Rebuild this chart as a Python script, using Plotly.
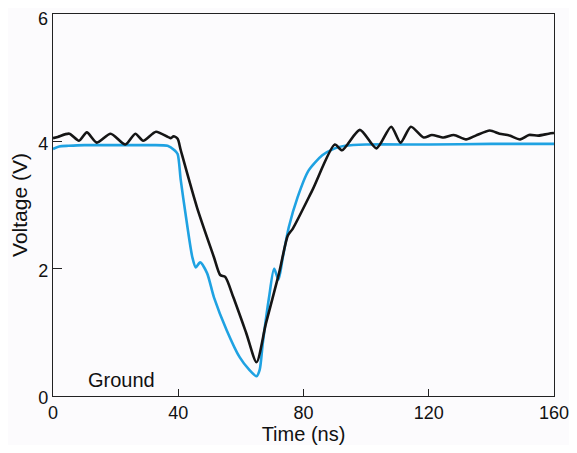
import plotly.graph_objects as go

# Black trace (time ns, voltage V)
t_black = [0, 1.5, 5.2, 8.3, 10.8, 14, 18.4, 23.1, 26.3, 28.8, 32.9, 37.6, 38.5, 39.8,
           40.8, 46, 51.4, 53.4, 55, 57.6, 61.7, 65, 68, 72.2, 75, 76.6, 82.8, 90,
           92.3, 98, 103.3, 108, 111, 114.3, 118.4, 121, 124.7, 128, 131.9, 135,
           139.5, 142.6, 145.8, 149.2, 152, 155, 158.3, 160]
v_black = [4.05, 4.07, 4.12, 4.01, 4.14, 3.98, 4.12, 3.95, 4.12, 4.01, 4.15, 4.05, 4.08, 4.04,
           3.86, 2.96, 2.18, 1.9, 1.87, 1.55, 0.99, 0.53, 1.14, 1.93, 2.52, 2.63, 3.23, 3.95,
           3.86, 4.18, 3.89, 4.23, 3.98, 4.23, 4.06, 4.1, 4.06, 4.1, 4.03, 4.09,
           4.17, 4.12, 4.09, 4.03, 4.1, 4.09, 4.12, 4.13]

# Blue trace
t_blue = [0, 2, 5, 10, 20, 30, 36.6, 38.8, 39.8, 40.8, 42.3, 44.5, 45.6, 47, 49.2, 51.4,
          55.5, 59.6, 62.7, 65, 66, 67, 69, 70.6, 72, 73.4, 75.3, 78.1, 81.6, 86, 90,
          93.3, 100, 120, 140, 160]
v_blue = [3.88, 3.92, 3.93, 3.94, 3.94, 3.94, 3.93, 3.86, 3.8, 3.39, 2.87, 2.18, 2.02, 2.1,
          1.93, 1.55, 1.03, 0.61, 0.41, 0.31, 0.41, 0.83, 1.55, 2.0, 1.83, 2.18, 2.65,
          3.12, 3.54, 3.78, 3.89, 3.93, 3.95, 3.95, 3.96, 3.96]

x_ticks = [0, 40, 80, 120, 160]
y_ticks = [0, 2, 4, 6]

FONT = "Liberation Sans, Arial, Helvetica, sans-serif"

fig = go.Figure()
fig.add_trace(go.Scatter(x=t_blue, y=v_blue, mode="lines",
                         line=dict(color="#1fa2e2", width=2.6, shape="spline", smoothing=0.7),
                         showlegend=False))
fig.add_trace(go.Scatter(x=t_black, y=v_black, mode="lines",
                         line=dict(color="#151515", width=2.6, shape="spline", smoothing=0.7),
                         showlegend=False))

fig.add_annotation(x=10.5, y=0.25, xref="x", yref="y", text="Ground", showarrow=False,
                   xanchor="left", yanchor="middle",
                   font=dict(family=FONT, size=20, color="#111"))

# top y tick label drawn as an annotation nudged down so it stays inside the page
fig.add_annotation(x=0, y=y_ticks[-1], xref="paper", yref="y", text=str(y_ticks[-1]),
                   showarrow=False, xanchor="right", yanchor="middle", xshift=-3, yshift=-5,
                   font=dict(family=FONT, size=18, color="#111"))

axis_common = dict(showgrid=False, zeroline=False, showline=True, linecolor="#222",
                   linewidth=1.2, mirror=True, ticks="inside", tickcolor="#222",
                   tickwidth=1.2, ticklabeloverflow="allow",
                   tickfont=dict(family=FONT, size=18, color="#111"))

fig.update_xaxes(range=[0, 160], tickvals=x_ticks, ticklen=7,
                 title=dict(text="Time (ns)", font=dict(family=FONT, size=20, color="#111"),
                            standoff=4),
                 **axis_common)
fig.update_yaxes(range=[0, 6], tickvals=y_ticks,
                 ticktext=[str(v) for v in y_ticks[:-1]] + [""],
                 ticklen=9, ticklabelshift=2,
                 title=dict(text="Voltage (V)", font=dict(family=FONT, size=21, color="#111"),
                            standoff=11),
                 **axis_common)

# The page body adds an 8px offset; the figure is sized to fit inside the window
fig.update_layout(width=561, height=437,
                  margin=dict(l=45, r=15, t=6, b=49, autoexpand=False),
                  paper_bgcolor="#fcfbfd", plot_bgcolor="#fcfbfd",
                  font=dict(family=FONT))

fig.write_html("out.html")
